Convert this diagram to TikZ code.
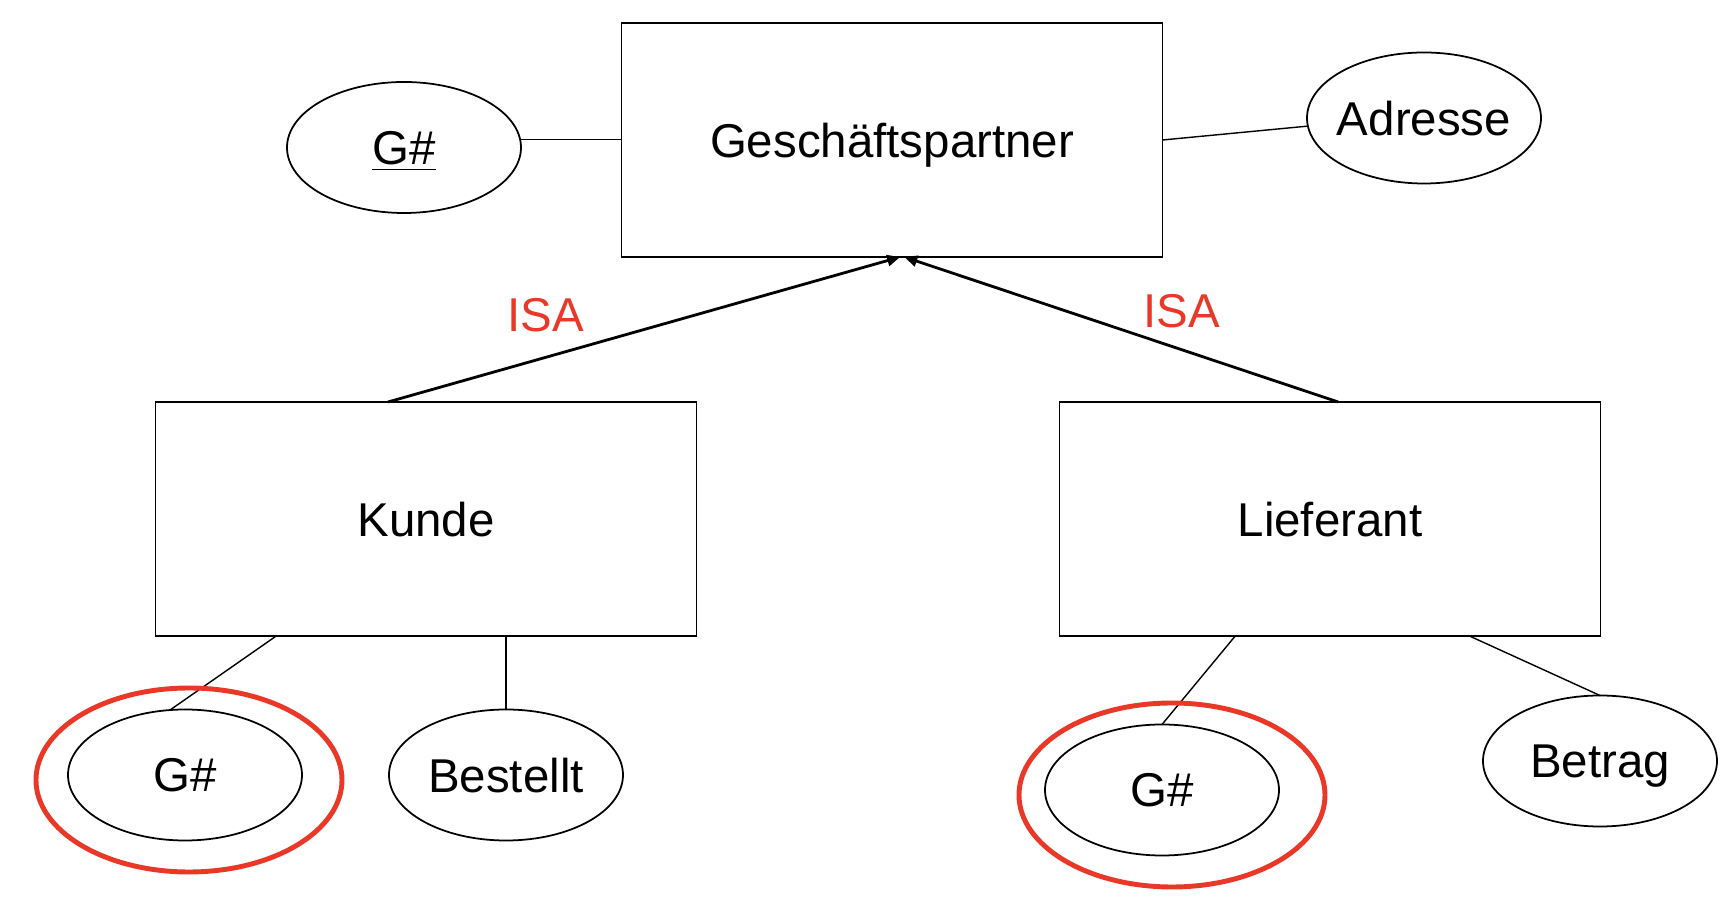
\documentclass[tikz,border=0pt]{standalone}
\usepackage{fontspec}
\setmainfont{Liberation Sans}
\usetikzlibrary{shapes.geometric,arrows.meta}
\definecolor{isared}{RGB}{234,56,40}
\begin{document}
\begin{tikzpicture}[
  entity/.style={draw,line width=0.5pt,minimum width=5.41cm,minimum height=2.34cm,text depth=0pt,outer sep=0pt},
  attrib/.style={draw,ellipse,line width=0.5pt,minimum width=2.34cm,minimum height=1.31cm,inner xsep=-2pt,inner ysep=0pt,text depth=0pt,outer sep=0pt},
  keyring/.style={draw=isared,ellipse,line width=1.4pt,minimum width=3.06cm,minimum height=1.84cm,inner sep=0pt},
  isa/.style={line width=0.8pt,-{Triangle[length=0.13cm,width=0.11cm]}},
  font=\fontsize{13.5}{16}\selectfont]
\useasboundingbox (0,0) rectangle (17.34,-9.10);

% Supertype with its attributes
\node[entity] (gp) at (8.92,-1.40) {Geschäftspartner};
\node[attrib] (gid) at (4.04,-1.475) {\underline{G\#}};
\node[attrib] (adr) at (14.24,-1.18) {Adresse};
\draw (gid.4) -- (gid.4 -| gp.west);
\draw (gp.east) -- (adr.184);

% Subtypes
\node[entity] (kunde) at (4.26,-5.19) {Kunde};
\node[entity] (lief) at (13.30,-5.19) {Lieferant};

% ISA arrows
\draw[isa] (kunde.108.4) -- (gp.-86.6);
\draw[isa] (lief.86.1) -- (gp.-84.6);
\node[text=isared] (isak) at (5.46,-3.15) {ISA};
\node[text=isared] (isal) at (11.82,-3.11) {ISA};

% Attributes of Kunde
\node[attrib] (kgid) at (1.85,-7.75) {G\#};
\node[attrib] (best) at (5.06,-7.75) {Bestellt};
\draw (kunde.-142.4) -- (kgid.103.6);
\draw (best.north) -- (best.north |- kunde.south);
\node[keyring] (kring) at (1.89,-7.80) {};

% Attributes of Lieferant
\node[attrib] (lgid) at (11.62,-7.90) {G\#};
\node[attrib] (betr) at (16.00,-7.61) {Betrag};
\draw (lief.-129.1) -- (lgid.north);
\draw (lief.-40.3) -- (betr.north);
\node[keyring] (lring) at (11.72,-7.95) {};
\end{tikzpicture}
\end{document}
